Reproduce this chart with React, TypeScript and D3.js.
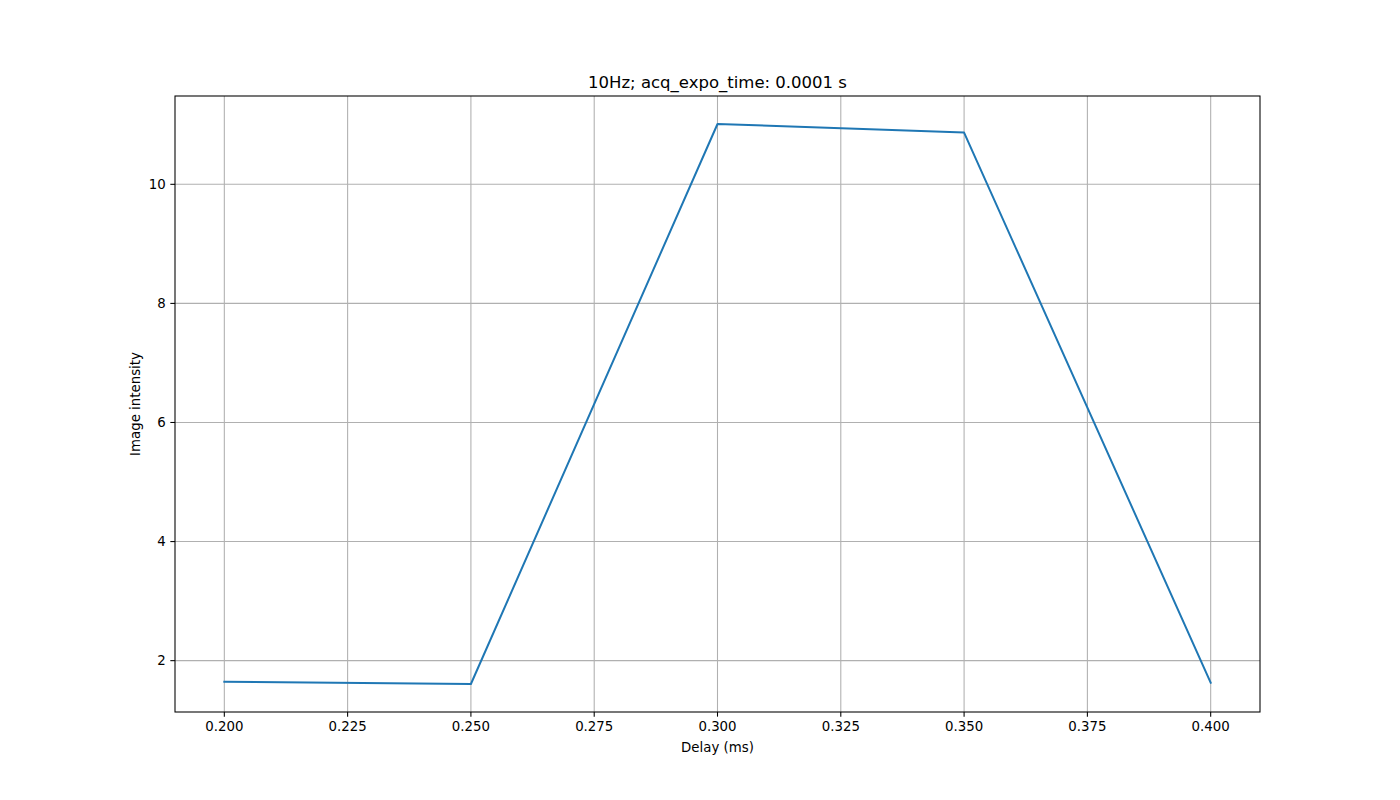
import React from "react";
import * as d3 from "d3";

const delays = [0.2, 0.25, 0.3, 0.35, 0.4];
const intensity = [1.647, 1.608, 11.013, 10.869, 1.63];
const xTicks = [0.2, 0.225, 0.25, 0.275, 0.3, 0.325, 0.35, 0.375, 0.4];
const yTicks = [2, 4, 6, 8, 10];
const title = "10Hz; acq_expo_time: 0.0001 s";
const xLabel = "Delay (ms)";
const yLabel = "Image intensity";

const W = 1400, H = 800;
const left = 175, right = 1260, top = 96, bottom = 712;

export default function App() {
  const xmin = d3.min(delays)!, xmax = d3.max(delays)!;
  const ymin = d3.min(intensity)!, ymax = d3.max(intensity)!;
  const xm = (xmax - xmin) * 0.05, ym = (ymax - ymin) * 0.05;
  const x = d3.scaleLinear().domain([xmin - xm, xmax + xm]).range([left, right]);
  const y = d3.scaleLinear().domain([ymin - ym, ymax + ym]).range([bottom, top]);
  const pts = delays.map((d, i) => [d, intensity[i]] as [number, number]);
  const line = d3.line<[number, number]>().x(d => x(d[0])).y(d => y(d[1]))(pts) || "";
  const font = "DejaVu Sans, sans-serif";
  return (
    <svg width={W} height={H} style={{ position: "absolute", left: 0, top: 0, background: "#fff" }} fontFamily={font}>
      <rect x={0} y={0} width={W} height={H} fill="#fff" />
      {xTicks.map(t => (
        <line key={"gx" + t} x1={x(t)} x2={x(t)} y1={top} y2={bottom} stroke="#b0b0b0" strokeWidth={1.07} />
      ))}
      {yTicks.map(t => (
        <line key={"gy" + t} x1={left} x2={right} y1={y(t)} y2={y(t)} stroke="#b0b0b0" strokeWidth={1.07} />
      ))}
      <path d={line} fill="none" stroke="#1f77b4" strokeWidth={2} strokeLinejoin="round" strokeLinecap="square" />
      <rect x={left} y={top} width={right - left} height={bottom - top} fill="none" stroke="#000" strokeWidth={1.07} />
      {xTicks.map(t => (
        <g key={"tx" + t}>
          <line x1={x(t)} x2={x(t)} y1={bottom} y2={bottom + 4.67} stroke="#000" strokeWidth={1.07} />
          <text x={x(t)} y={bottom + 9.33} dy="0.76em" textAnchor="middle" fontSize={13.33}>{t.toFixed(3)}</text>
        </g>
      ))}
      {yTicks.map(t => (
        <g key={"ty" + t}>
          <line x1={left - 4.67} x2={left} y1={y(t)} y2={y(t)} stroke="#000" strokeWidth={1.07} />
          <text x={left - 9.33} y={y(t)} dy="0.36em" textAnchor="end" fontSize={13.33}>{t}</text>
        </g>
      ))}
      <text x={(left + right) / 2} y={top - 8} textAnchor="middle" fontSize={16.5}>{title}</text>
      <text x={(left + right) / 2} y={752} textAnchor="middle" fontSize={13.33}>{xLabel}</text>
      <text transform={`translate(139.5, ${(top + bottom) / 2}) rotate(-90)`} textAnchor="middle" fontSize={13.33}>{yLabel}</text>
    </svg>
  );
}
